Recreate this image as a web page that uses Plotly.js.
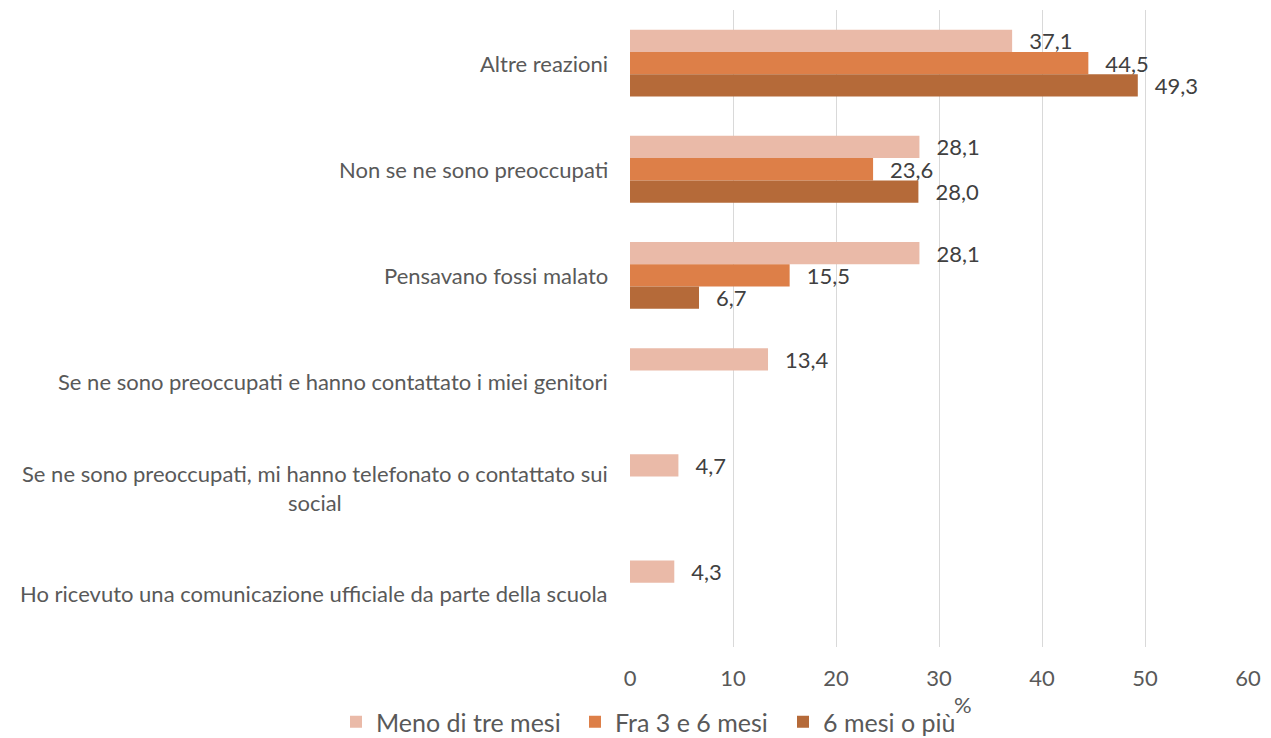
<!DOCTYPE html>
<html>
<head>
<meta charset="utf-8">
<script src="https://cdn.plot.ly/plotly-3.0.1.min.js"></script>
<style>html,body{margin:0;padding:0;background:#fff;}#chart{width:1271px;height:738px;}</style>
</head>
<body>
<div id="chart"></div>
<script>
const categories = [
  "Altre reazioni",
  "Non se ne sono preoccupati",
  "Pensavano fossi malato",
  "Se ne sono preoccupati e hanno contattato i miei genitori",
  "Se ne sono preoccupati, mi hanno telefonato o contattato sui<br>social",
  "Ho ricevuto una comunicazione ufficiale da parte della scuola"
];
const seriesNames = ["Meno di tre mesi", "Fra 3 e 6 mesi", "6 mesi o più"];
const menoDiTreMesi = [37.1, 28.1, 28.1, 13.4, 4.7, 4.3];
const fra3e6Mesi = [44.5, 23.6, 15.5, null, null, null];
const seiMesiOPiu = [49.3, 28.0, 6.7, null, null, null];
const xTicks = [0, 10, 20, 30, 40, 50, 60];

const colors = ["#EABAA8", "#DD7F48", "#B56A39"];
const FONT = "Lato, 'Open Sans', sans-serif";
const seriesValues = [menoDiTreMesi, fra3e6Mesi, seiMesiOPiu];
const legendIds = ["legend", "legend2", "legend3"];
const legendTextStarts = [378, 617, 825];

const traces = seriesValues.map((vals, i) => ({
  type: "bar",
  orientation: "h",
  name: seriesNames[i],
  legend: legendIds[i],
  y: categories,
  x: vals,
  marker: {color: colors[i]},
  texttemplate: "\u00a0\u00a0\u2009%{x:.1f}",
  textposition: "outside",
  constraintext: "none",
  cliponaxis: false,
  textfont: {family: FONT, size: 22, color: "#404040"},
  hoverinfo: "x+name"
}));

const annotations = categories.map(c => ({
  xref: "paper", yref: "y",
  x: -0.033, y: c,
  xanchor: "right", yanchor: "middle",
  align: "center",
  text: c,
  showarrow: false,
  font: {family: FONT, size: 22, color: "#595959"}
}));
annotations.push({
  xref: "paper", yref: "paper",
  x: (963 - 630) / 618, y: -(704 - 647) / 637,
  xanchor: "center", yanchor: "middle",
  text: "%", showarrow: false,
  font: {family: FONT, size: 22, color: "#595959"}
});

const layout = {
  width: 1271, height: 738,
  margin: {l: 630, r: 23, t: 10, b: 91, autoexpand: false},
  barmode: "group",
  bargap: 0.37,
  bargroupgap: 0,
  separators: ",.",
  paper_bgcolor: "#fff",
  plot_bgcolor: "#fff",
  font: {family: FONT, size: 22, color: "#595959"},
  xaxis: {
    range: [0, 60],
    tickvals: xTicks,
    ticktext: xTicks.map(String),
    showgrid: true,
    gridcolor: "#D9D9D9",
    gridwidth: 1,
    zeroline: false,
    showline: false,
    ticks: "",
    automargin: false,
    ticklabelstandoff: 16,
    tickfont: {family: FONT, size: 22, color: "#595959"}
  },
  yaxis: {
    type: "category",
    autorange: "reversed",
    showticklabels: false,
    showgrid: false,
    zeroline: false,
    showline: false,
    automargin: false,
    ticks: ""
  },
  showlegend: true,
  annotations: annotations
};
legendIds.forEach((id, i) => {
  layout[id] = {
    orientation: "h",
    xref: "container", yref: "container",
    x: (legendTextStarts[i] - 42) / 1271, xanchor: "left",
    y: 1 - 722 / 738, yanchor: "middle",
    font: {family: FONT, size: 25, color: "#595959"},
    bgcolor: "rgba(0,0,0,0)",
    itemwidth: 30
  };
});

Plotly.newPlot("chart", traces, layout, {displayModeBar: false, staticPlot: true});
</script>
</body>
</html>
